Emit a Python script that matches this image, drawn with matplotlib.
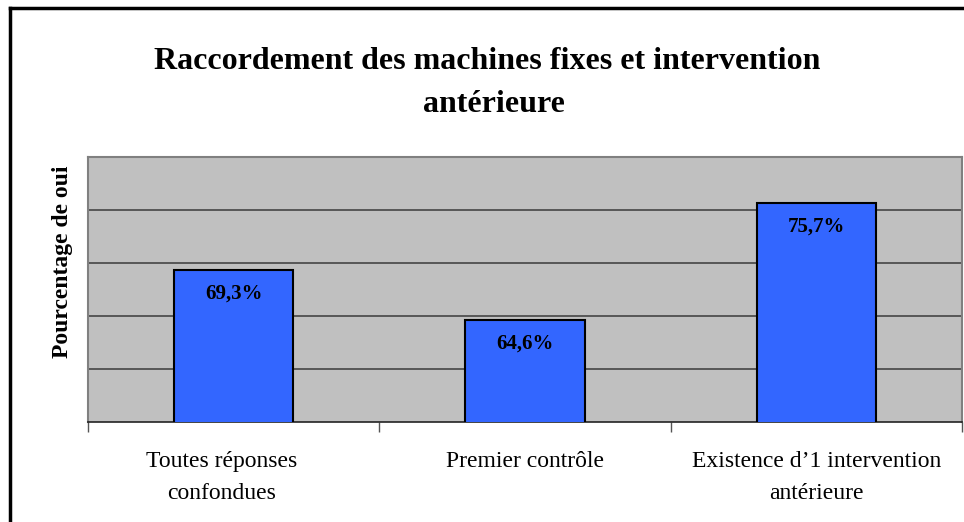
import matplotlib.pyplot as plt
from matplotlib.lines import Line2D
from matplotlib.transforms import ScaledTranslation

categories = ["Toutes réponses\nconfondues", "Premier contrôle", "Existence d’1 intervention\nantérieure"]
values = [69.3, 64.6, 75.7]
value_labels = ["69,3%", "64,6%", "75,7%"]

plt.rcParams["font.family"] = ["Liberation Serif", "DejaVu Serif"]

fig = plt.figure(figsize=(9.64, 5.22), dpi=100)
ax = fig.add_axes([88 / 964, 100 / 522, 874 / 964, 265 / 522])

x = list(range(len(categories)))
ax.set_facecolor("#C0C0C0")
ax.bar(x, values, width=0.41, color="#3366FF", edgecolor="black", linewidth=1.5, zorder=3)

ax.set_ylim(55, 80)
ax.set_yticks([60, 65, 70, 75])
ax.yaxis.grid(True, color="#3a3a3a", linewidth=1.1, zorder=1)
ax.tick_params(axis="y", length=0, labelleft=False)

ax.set_xlim(-0.5, 2.5)
ax.set_xticks(x)
ax.set_xticklabels(categories, fontsize=17, linespacing=1.7)
ax.set_xticks([-0.5, 0.5, 1.5, 2.5], minor=True)
ax.tick_params(axis="x", which="major", length=0, pad=21)
ax.tick_params(axis="x", which="minor", length=7, width=1, color="#555555", direction="out")

# la première étiquette est un peu décalée vers la gauche dans l'original
first = ax.get_xticklabels()[0]
first.set_transform(first.get_transform() + ScaledTranslation(-12 / 100, 0, fig.dpi_scale_trans))

for side in ["top", "left", "right"]:
    ax.spines[side].set_color("#808080")
    ax.spines[side].set_linewidth(1.5)
ax.spines["bottom"].set_color("#222222")
ax.spines["bottom"].set_linewidth(1.2)

for xi, v, lab in zip(x, values, value_labels):
    ax.annotate(lab, (xi, v), xytext=(0, -17), textcoords="offset points",
                ha="center", va="center", fontsize=15, fontweight="bold", zorder=4)

ax.set_ylabel("Pourcentage de oui", fontsize=17, fontweight="bold")
ax.yaxis.set_label_coords(-0.017, 0.604)

fig.text(0.505, 0.882, "Raccordement des machines fixes et intervention", ha="center", va="center",
         fontsize=23, fontweight="bold")
fig.text(0.512, 0.8, "antérieure", ha="center", va="center", fontsize=23, fontweight="bold")

# cadre
fig.add_artist(Line2D([9.5 / 964, 9.5 / 964], [0, 1 - 8 / 522], color="black", linewidth=2.5,
                      transform=fig.transFigure))
fig.add_artist(Line2D([9.5 / 964, 1], [1 - 8 / 522, 1 - 8 / 522], color="black", linewidth=2.5,
                      transform=fig.transFigure))

fig.savefig("out.png", dpi=100)
